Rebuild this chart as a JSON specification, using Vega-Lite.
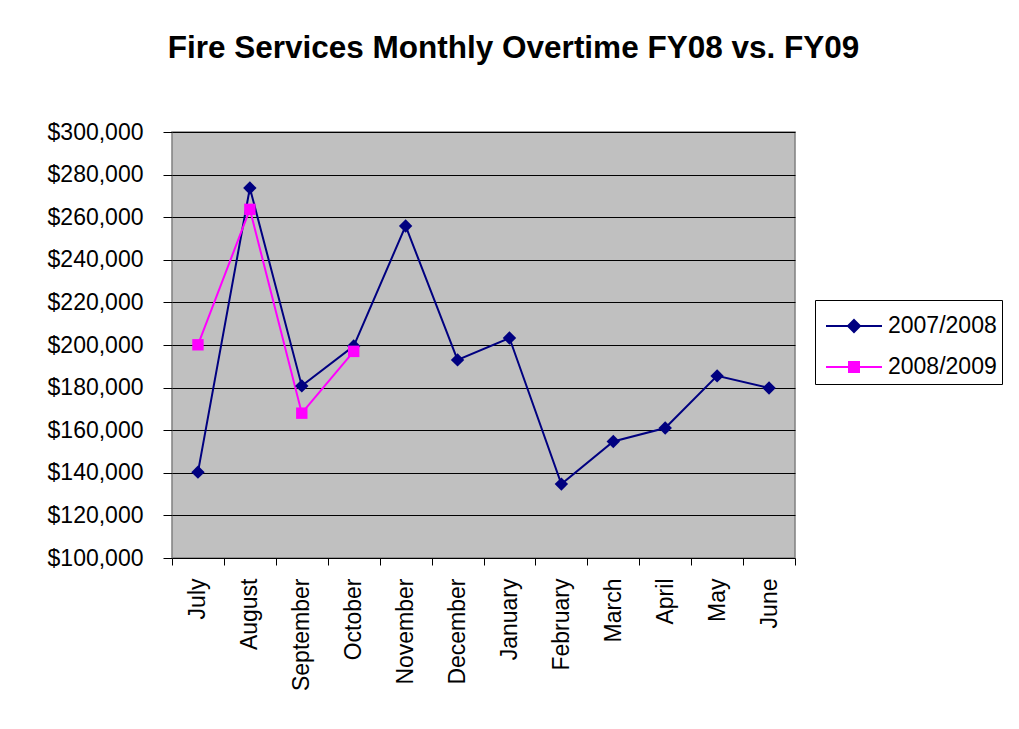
{
  "$schema": "https://vega.github.io/schema/vega-lite/v6.json",
  "width": 623,
  "height": 426,
  "autosize": {"type": "none"},
  "padding": {"left": 172, "top": 132, "right": 224, "bottom": 171},
  "background": "white",
  "title": {"text": "Fire Services Monthly Overtime FY08 vs. FY09", "font": "Liberation Sans", "fontSize": 31.5, "fontWeight": "bold", "color": "black", "offset": 57, "dx": 30},
  "config": {
    "view": {"fill": "#C0C0C0", "stroke": "#808080", "strokeWidth": 1.5},
    "axis": {"labelFont": "Liberation Sans", "labelFontSize": 23, "labelColor": "black", "tickColor": "black", "domain": false, "title": null}
  },
  "data": {"values": [
    {"month": "July", "series": "2007/2008", "amount": 140300},
    {"month": "August", "series": "2007/2008", "amount": 273700},
    {"month": "September", "series": "2007/2008", "amount": 180800},
    {"month": "October", "series": "2007/2008", "amount": 199500},
    {"month": "November", "series": "2007/2008", "amount": 255900},
    {"month": "December", "series": "2007/2008", "amount": 193000},
    {"month": "January", "series": "2007/2008", "amount": 203300},
    {"month": "February", "series": "2007/2008", "amount": 134700},
    {"month": "March", "series": "2007/2008", "amount": 154700},
    {"month": "April", "series": "2007/2008", "amount": 161000},
    {"month": "May", "series": "2007/2008", "amount": 185500},
    {"month": "June", "series": "2007/2008", "amount": 179800},
    {"month": "July", "series": "2008/2009", "amount": 200100},
    {"month": "August", "series": "2008/2009", "amount": 263700},
    {"month": "September", "series": "2008/2009", "amount": 168000},
    {"month": "October", "series": "2008/2009", "amount": 197000}
  ]},
  "encoding": {
    "x": {"field": "month", "type": "nominal",
      "sort": ["July","August","September","October","November","December","January","February","March","April","May","June"],
      "scale": {"type": "band", "paddingInner": 0, "paddingOuter": 0},
      "axis": {"labelAngle": 270, "labelAlign": "right", "labelBaseline": "middle", "tickBand": "extent", "tickSize": 7, "labelPadding": 13, "grid": false}},
    "y": {"field": "amount", "type": "quantitative",
      "scale": {"domain": [100000, 300000], "nice": false, "zero": false},
      "axis": {"format": "$,.0f", "values": [100000,120000,140000,160000,180000,200000,220000,240000,260000,280000,300000], "tickSize": 9, "labelPadding": 20, "grid": true, "gridColor": "black", "gridOpacity": 1, "gridWidth": 1}},
    "color": {"field": "series", "type": "nominal",
      "scale": {"domain": ["2007/2008", "2008/2009"], "range": ["#000080", "#FF00FF"]},
      "legend": {"title": null, "orient": "none", "legendX": 643, "legendY": 168, "strokeColor": "black", "fillColor": "white", "padding": 5, "labelFont": "Liberation Sans", "labelFontSize": 23, "labelColor": "black", "symbolSize": 1600, "symbolStrokeWidth": 2, "symbolOpacity": 1, "labelOffset": 26, "rowPadding": 8,
        "encode": {"symbols": {"update": {
          "shape": {"signal": "datum.value === '2007/2008' ? 'M-0.75,0L2.05,0M0.65,-0.3L0.95,0L0.65,0.3L0.35,0Z' : 'M-0.75,0L2.05,0M0.4,-0.25L0.9,-0.25L0.9,0.25L0.4,0.25Z'"},
          "fill": {"signal": "scale('color', datum.value)"},
          "stroke": {"signal": "scale('color', datum.value)"}
        }}}}}
  },
  "layer": [
    {"mark": {"type": "line", "strokeWidth": 2}},
    {"transform": [{"filter": "datum.series === '2007/2008'"}],
     "mark": {"type": "point", "shape": "diamond", "size": 180, "filled": true, "opacity": 1}},
    {"transform": [{"filter": "datum.series === '2008/2009'"}],
     "mark": {"type": "point", "shape": "square", "size": 130, "filled": true, "opacity": 1}}
  ]
}
